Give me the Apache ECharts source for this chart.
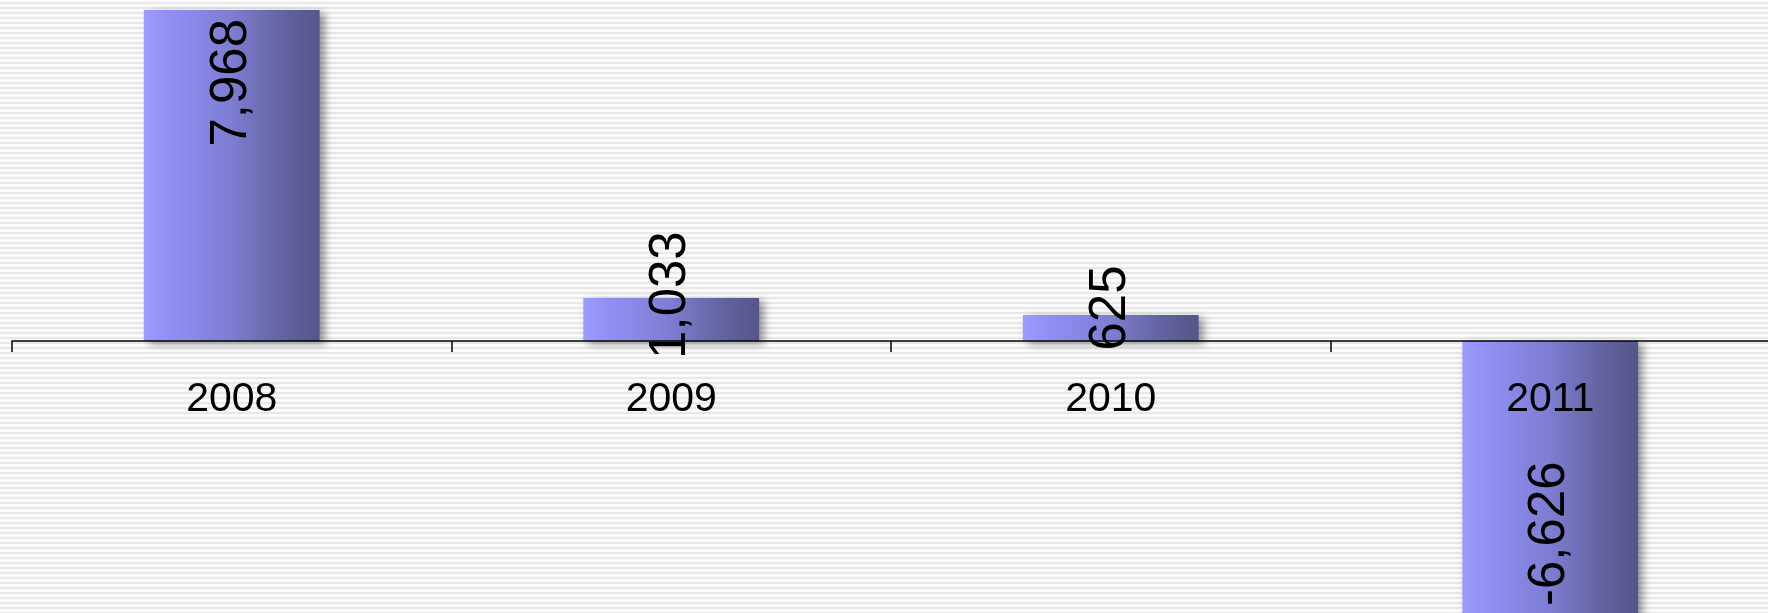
<!DOCTYPE html>
<html>
<head>
<meta charset="utf-8">
<script src="https://cdn.jsdelivr.net/npm/echarts@6/dist/echarts.min.js"></script>
<style>
html,body{margin:0;padding:0;}
#chart{width:1768px;height:613px;
background:repeating-linear-gradient(to bottom,#ffffff 0px,#fafafa 1.5px,#e8e8e8 2.5px,#e8e8e8 3.5px,#fafafa 4.5px,#ffffff 5px);}
</style>
</head>
<body>
<div id="chart"></div>
<script>
var categories = ['2008', '2009', '2010', '2011'];
var values = [7968, 1033, 625, -6626];
var valueLabels = ['7,968', '1,033', '625', '-6,626'];

var chart = echarts.init(document.getElementById('chart'), null, {renderer: 'canvas'});

var labelPos = [['50%', '22%'], ['50%', -3], ['50%', -7], ['50%', '70%']];

var barGradient = new echarts.graphic.LinearGradient(0, 0, 1, 0, [
  {offset: 0, color: '#9c9cff'},
  {offset: 0.15, color: '#9090f4'},
  {offset: 0.5, color: '#7d7dd2'},
  {offset: 0.8, color: '#62629e'},
  {offset: 1, color: '#54558a'}
]);

chart.setOption({
  backgroundColor: 'transparent',
  animation: false,
  grid: {left: 12, top: 0, width: 1758, height: 341, containLabel: false, outerBoundsMode: 'none'},
  xAxis: {
    type: 'category',
    data: categories,
    z: 5,
    axisLine: {onZero: false, lineStyle: {color: '#000', width: 1.5}},
    axisTick: {show: true, alignWithLabel: false, length: 11, lineStyle: {color: '#000', width: 1.5}},
    axisLabel: {
      fontFamily: 'Liberation Sans, Arial, sans-serif',
      fontSize: 41,
      color: '#000',
      margin: 38,
      interval: 0,
      hideOverlap: false
    },
    splitLine: {show: false}
  },
  yAxis: {
    type: 'value',
    min: 0,
    max: 8208,
    show: false,
    splitLine: {show: false}
  },
  series: [{
    type: 'bar',
    barWidth: '40%',
    clip: false,
    z: 2,
    data: values.map(function (v, i) {
      return {
        value: v,
        label: {
          show: true,
          position: labelPos[i],
          rotate: 90,
          align: 'center',
          verticalAlign: 'middle',
          formatter: valueLabels[i],
          fontFamily: 'Liberation Sans, Arial, sans-serif',
          fontSize: 51,
          color: '#000'
        }
      };
    }),
    itemStyle: {
      color: barGradient,
      shadowColor: 'rgba(0,0,0,0.4)',
      shadowBlur: 8,
      shadowOffsetX: 5,
      shadowOffsetY: 3
    }
  }]
});
</script>
</body>
</html>
